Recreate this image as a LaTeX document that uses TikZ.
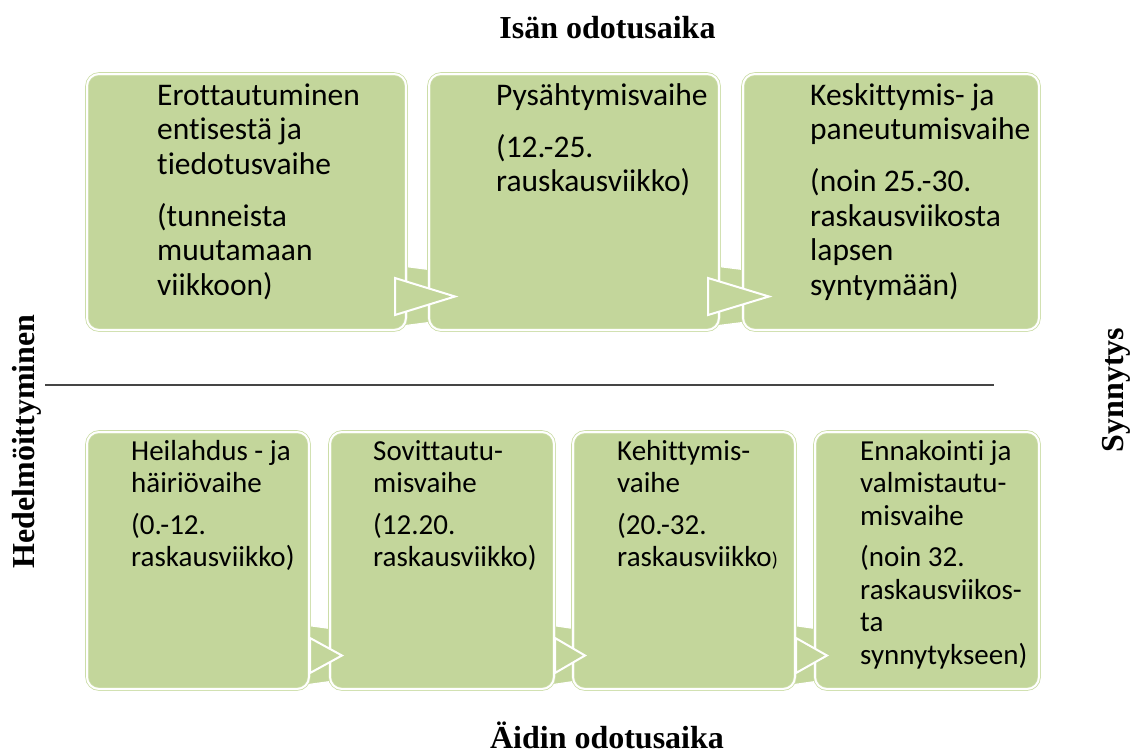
\documentclass[tikz,border=0pt]{standalone}
\usepackage{fontspec}
\setmainfont{Liberation Serif}
\newfontfamily\carlito[Ligatures=NoCommon]{Carlito}
\usetikzlibrary{calc,backgrounds}
\definecolor{boxgreen}{HTML}{C3D69B}
\definecolor{edgegreen}{HTML}{CCDDA8}
\definecolor{rulegray}{HTML}{454545}
\begin{document}
\begin{tikzpicture}[x=1pt,y=-1pt,
  box/.style={draw=edgegreen, line width=0.8pt, double=white, double distance=2pt,
    fill=boxgreen, rounded corners=12pt, inner sep=0pt, outer sep=0pt},
  conn/.style={draw=white, line width=2pt, fill=boxgreen, line join=miter},
  band/.style={draw=white, line width=1.2pt, fill=boxgreen},
  toptxt/.style={anchor=north west, inner sep=0pt, align=left,
    font=\carlito\fontsize{31.5}{34.5}\selectfont},
  bottxt/.style={anchor=north west, inner sep=0pt, align=left,
    font=\carlito\fontsize{29}{32.5}\selectfont},
  title/.style={font=\bfseries\fontsize{32}{38}\selectfont, inner sep=0pt}]
\useasboundingbox (0,0) rectangle (1137,753);

% top row boxes
\node[box, minimum width=319, minimum height=256] (t1) at (246.5,202) {};
\node[box, minimum width=290, minimum height=256] (t2) at (574,202) {};
\node[box, minimum width=296, minimum height=256] (t3) at (891,202) {};
% bottom row boxes
\node[box, minimum width=222, minimum height=257] (b1) at (198,560.5) {};
\node[box, minimum width=224, minimum height=257] (b2) at (442,560.5) {};
\node[box, minimum width=222, minimum height=257] (b3) at (684,560.5) {};
\node[box, minimum width=224, minimum height=257] (b4) at (927,560.5) {};

% bands behind connectors
\begin{pgfonlayer}{background}
\foreach \a/\b in {t1/t2,t2/t3}{
  \draw[band] ($(\a.south east)+(-4,-64)$) -- ($(\b.south west)+(4,-60)$)
    -- ($(\b.south west)+(4,-8)$) -- ($(\a.south east)+(-4,-4)$) -- cycle;}
\foreach \a/\b in {b1/b2,b2/b3,b3/b4}{
  \draw[band] ($(\a.south east)+(-4,-64)$) -- ($(\b.south west)+(4,-60)$)
    -- ($(\b.south west)+(4,-8)$) -- ($(\a.south east)+(-4,-4)$) -- cycle;}
\end{pgfonlayer}

% connectors (triangles)
\foreach \a/\b in {t1/t2,t2/t3}{
  \draw[conn] ($(\a.south east)+(-11,-52)$) -- ($(\b.south west)+(26,-33.5)$)
    -- ($(\a.south east)+(-11,-15)$) -- cycle;}
\foreach \a/\b in {b1/b2,b2/b3,b3/b4}{
  \draw[conn] ($(\a.south east)+(1,-51)$) -- ($(\b.south west)+(12,-33.5)$)
    -- ($(\a.south east)+(1,-16)$) -- cycle;}

% texts top
\node[toptxt] (t1txt) at (157,80) {\rule{0pt}{25pt}Erottautuminen\\entisestä ja\\tiedotusvaihe\\[17.5pt](tunneista\\muutamaan\\viikkoon)};
\node[toptxt] (t2txt) at (496,80) {\rule{0pt}{25pt}Pysähtymisvaihe\\[17.5pt](12.-25.\\rauskausviikko)};
\node[toptxt] (t3txt) at (810,80) {\rule{0pt}{25pt}Keskittymis- ja\\paneutumisvaihe\\[17.5pt](noin 25.-30.\\raskausviikosta\\lapsen\\syntymään)};
% texts bottom
\node[bottxt] (b1txt) at (131,437) {\rule{0pt}{23pt}Heilahdus - ja\\häiriövaihe\\[9pt](0.-12.\\raskausviikko)};
\node[bottxt] (b2txt) at (373,437) {\rule{0pt}{23pt}Sovittautu-\\misvaihe\\[9pt](12.20.\\raskausviikko)};
\node[bottxt] (b3txt) at (617,437) {\rule{0pt}{23pt}Kehittymis-\\vaihe\\[9pt](20.-32.\\raskausviikko{\fontsize{20}{20}\selectfont)}};
\node[bottxt] (b4txt) at (860,437) {\rule{0pt}{23pt}Ennakointi ja\\valmistautu-\\misvaihe\\[9pt](noin 32.\\raskausviikos-\\ta\\synnytykseen)};

% titles
\node[title, anchor=base] (isa) at (607.5,38) {Isän odotusaika};
\node[title, anchor=base] (aiti) at (607,748) {Äidin odotusaika};
\node[title, anchor=base, rotate=90] (hedel) at (34,441.5) {Hedelmöittyminen};
\node[title, anchor=base, rotate=90] (syn) at (1123,390) {Synnytys};

% divider
\coordinate (ruleL) at (45,385);
\coordinate (ruleR) at (994,385);
\draw[rulegray, line width=2.2pt] (ruleL) -- (ruleR);
\end{tikzpicture}
\end{document}
